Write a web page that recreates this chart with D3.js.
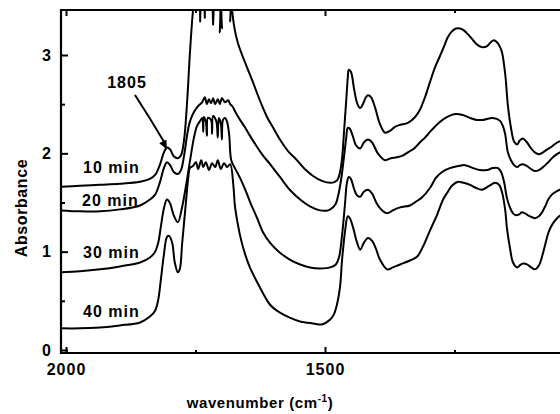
<!DOCTYPE html>
<html><head><meta charset="utf-8">
<script src="https://cdn.jsdelivr.net/npm/d3@7"></script>
<style>
html,body{margin:0;padding:0;background:#fff;}
svg text{font-family:"Liberation Sans",Arial,Helvetica,sans-serif;font-weight:bold;fill:#000;}
</style></head>
<body>
<svg id="chart" width="560" height="414"></svg>
<script>
// ---- data: [wavenumber cm-1, absorbance] ----
const spec10 = [[2010,1.66],[1973,1.67],[1934,1.68],[1896,1.69],[1857,1.71],[1838,1.74],[1828,1.78],[1819,1.88],[1811,2.01],[1805,2.06],[1799,2.04],[1792,1.97],[1784,1.95],[1778,1.98],[1772,2.14],[1766,2.54],[1761,3.00],[1755,3.44],[1751,3.6],[1743,3.6],[1741,3.34],[1739,3.6],[1734,3.6],[1732,3.38],[1730,3.6],[1718,3.6],[1716,3.31],[1714,3.6],[1705,3.6],[1703,3.23],[1701,3.6],[1699,3.27],[1697,3.6],[1685,3.6],[1683,3.34],[1681,3.6],[1679,3.44],[1674,3.25],[1668,3.12],[1660,3.00],[1651,2.88],[1641,2.75],[1631,2.61],[1622,2.49],[1612,2.37],[1600,2.26],[1587,2.14],[1571,2.02],[1554,1.93],[1539,1.84],[1523,1.77],[1506,1.72],[1490,1.70],[1481,1.71],[1475,1.74],[1471,1.81],[1467,1.95],[1463,2.24],[1459,2.54],[1456,2.77],[1454,2.85],[1450,2.83],[1444,2.66],[1438,2.51],[1432,2.46],[1427,2.50],[1421,2.57],[1417,2.59],[1411,2.57],[1403,2.46],[1394,2.30],[1384,2.21],[1374,2.23],[1365,2.27],[1355,2.29],[1340,2.31],[1326,2.37],[1317,2.44],[1307,2.57],[1297,2.73],[1288,2.87],[1278,2.99],[1270,3.09],[1263,3.18],[1255,3.24],[1247,3.27],[1239,3.27],[1232,3.25],[1224,3.21],[1214,3.15],[1205,3.10],[1197,3.08],[1187,3.09],[1180,3.13],[1174,3.15],[1168,3.13],[1162,3.08],[1158,3.02],[1152,2.80],[1147,2.49],[1141,2.26],[1135,2.12],[1129,2.09],[1124,2.13],[1118,2.15],[1110,2.11],[1102,2.05],[1095,2.01],[1087,1.99],[1079,2.01],[1071,2.04],[1062,2.07],[1052,2.11],[1042,2.13]];

const spec20 = [[2010,1.42],[1973,1.41],[1934,1.41],[1896,1.43],[1857,1.47],[1838,1.53],[1828,1.58],[1819,1.70],[1811,1.85],[1805,1.91],[1799,1.88],[1792,1.81],[1784,1.79],[1778,1.83],[1772,1.98],[1766,2.19],[1761,2.32],[1753,2.42],[1745,2.48],[1737,2.52],[1732,2.57],[1728,2.50],[1724,2.55],[1720,2.51],[1716,2.56],[1712,2.50],[1707,2.55],[1703,2.50],[1699,2.56],[1693,2.52],[1687,2.54],[1683,2.50],[1679,2.48],[1672,2.41],[1664,2.34],[1654,2.26],[1645,2.18],[1633,2.08],[1620,1.98],[1606,1.89],[1587,1.76],[1568,1.63],[1548,1.53],[1529,1.46],[1510,1.42],[1494,1.42],[1485,1.45],[1479,1.49],[1475,1.56],[1469,1.73],[1463,1.98],[1459,2.16],[1456,2.26],[1452,2.25],[1446,2.17],[1440,2.08],[1432,2.05],[1425,2.11],[1417,2.14],[1409,2.11],[1398,2.00],[1384,1.93],[1373,1.95],[1361,1.96],[1349,1.98],[1340,2.01],[1328,2.05],[1317,2.11],[1307,2.16],[1297,2.22],[1288,2.27],[1278,2.32],[1264,2.37],[1249,2.40],[1234,2.39],[1220,2.36],[1207,2.34],[1195,2.34],[1176,2.36],[1162,2.33],[1156,2.27],[1152,2.19],[1147,2.01],[1141,1.93],[1135,1.88],[1129,1.86],[1124,1.88],[1118,1.89],[1110,1.87],[1102,1.84],[1095,1.82],[1087,1.83],[1079,1.86],[1069,1.91],[1060,1.96],[1050,2.00],[1042,2.02]];

const spec30 = [[2010,0.79],[1973,0.80],[1934,0.82],[1896,0.85],[1857,0.89],[1838,0.94],[1828,1.00],[1822,1.09],[1817,1.25],[1811,1.44],[1805,1.53],[1799,1.49],[1792,1.37],[1784,1.30],[1776,1.45],[1768,1.68],[1761,1.91],[1753,2.16],[1747,2.28],[1741,2.33],[1737,2.36],[1735,2.22],[1734,2.37],[1730,2.32],[1728,2.18],[1726,2.36],[1720,2.34],[1718,2.20],[1716,2.38],[1710,2.33],[1707,2.16],[1705,2.36],[1701,2.30],[1699,2.14],[1697,2.34],[1693,2.36],[1689,2.32],[1685,2.19],[1681,1.93],[1674,1.85],[1664,1.75],[1654,1.63],[1645,1.51],[1631,1.34],[1620,1.20],[1606,1.09],[1587,0.99],[1568,0.92],[1548,0.87],[1529,0.84],[1510,0.83],[1490,0.84],[1479,0.87],[1473,0.94],[1467,1.17],[1461,1.51],[1458,1.69],[1454,1.76],[1450,1.74],[1444,1.64],[1438,1.57],[1432,1.56],[1425,1.61],[1417,1.63],[1409,1.59],[1400,1.49],[1390,1.42],[1380,1.39],[1369,1.42],[1355,1.45],[1336,1.47],[1324,1.51],[1313,1.55],[1297,1.65],[1286,1.75],[1274,1.81],[1259,1.85],[1243,1.87],[1230,1.88],[1214,1.85],[1201,1.83],[1187,1.83],[1176,1.85],[1166,1.85],[1160,1.81],[1154,1.70],[1149,1.55],[1143,1.45],[1137,1.39],[1131,1.37],[1125,1.38],[1120,1.40],[1114,1.39],[1108,1.37],[1100,1.35],[1095,1.34],[1087,1.36],[1081,1.40],[1075,1.46],[1069,1.53],[1062,1.58],[1054,1.61],[1042,1.64]];

const spec40 = [[2010,0.22],[1973,0.22],[1934,0.23],[1896,0.25],[1857,0.28],[1838,0.34],[1828,0.40],[1822,0.51],[1817,0.71],[1811,0.97],[1805,1.15],[1801,1.16],[1795,1.09],[1790,0.89],[1784,0.79],[1780,0.83],[1776,1.07],[1772,1.30],[1768,1.53],[1764,1.75],[1761,1.85],[1755,1.87],[1749,1.91],[1745,1.84],[1739,1.93],[1735,1.86],[1730,1.91],[1724,1.83],[1718,1.90],[1712,1.86],[1707,1.93],[1701,1.84],[1695,1.90],[1689,1.86],[1683,1.89],[1677,1.68],[1674,1.47],[1668,1.27],[1662,1.12],[1654,0.97],[1645,0.84],[1633,0.71],[1620,0.58],[1606,0.46],[1587,0.38],[1568,0.33],[1548,0.29],[1523,0.27],[1506,0.26],[1490,0.31],[1483,0.36],[1477,0.46],[1471,0.64],[1467,0.92],[1461,1.22],[1456,1.36],[1452,1.34],[1446,1.25],[1438,1.09],[1432,1.02],[1425,1.09],[1417,1.14],[1409,1.11],[1401,1.02],[1394,0.92],[1380,0.82],[1369,0.84],[1355,0.87],[1336,0.91],[1322,0.95],[1311,1.05],[1297,1.22],[1284,1.37],[1272,1.53],[1264,1.60],[1255,1.67],[1243,1.71],[1232,1.70],[1220,1.68],[1209,1.65],[1197,1.63],[1183,1.67],[1172,1.70],[1164,1.68],[1158,1.60],[1152,1.42],[1149,1.25],[1143,1.04],[1137,0.89],[1129,0.84],[1124,0.86],[1118,0.88],[1110,0.87],[1102,0.84],[1095,0.82],[1087,0.86],[1081,0.95],[1075,1.07],[1069,1.19],[1062,1.27],[1052,1.34],[1042,1.38]];

const seriesLabels = ["10 min", "20 min", "30 min", "40 min"];
const xMajorTicks = [2000, 1500];
const xMinorTicks = [1750, 1250];
const yMajorTicks = [0, 1, 2, 3];
const yMinorTicks = [0.5, 1.5, 2.5];
const peakLabel = "1805";
const peakWavenumber = 1805;

// ---- layout ----
const svg = d3.select("#chart");
const L = 61, R = 562, T = 10, B = 353;
const x = d3.scaleLinear().domain([2000, 1500]).range([66, 325]);
const y = d3.scaleLinear().domain([0, 3]).range([350, 55]);

svg.append("defs").append("clipPath").attr("id", "plotclip")
  .append("rect").attr("x", L).attr("y", T).attr("width", R - L).attr("height", B - T);

const line = d3.line().x(d => x(d[0])).y(d => y(d[1])).curve(d3.curveCatmullRom.alpha(0.5));
const plot = svg.append("g").attr("clip-path", "url(#plotclip)");
[spec10, spec20, spec30, spec40].forEach(s => {
  plot.append("path").datum(s).attr("d", line)
    .attr("fill", "none").attr("stroke", "#000").attr("stroke-width", 2)
    .attr("stroke-linejoin", "round");
});

// axes
function styleAxis(g){ g.select(".domain").remove(); g.selectAll("line").attr("stroke","#000").attr("stroke-width",2); }
svg.append("g").attr("transform", `translate(0,${B})`)
  .call(d3.axisBottom(x).tickValues(xMajorTicks).tickSize(-6).tickPadding(11).tickFormat(d3.format("d")))
  .call(styleAxis)
  .selectAll("text").attr("font-size", 16).attr("letter-spacing", 1).attr("fill","#000").attr("font-family",null);
svg.append("g").attr("transform", `translate(0,${B})`)
  .call(d3.axisBottom(x).tickValues(xMinorTicks).tickSize(-3).tickFormat(""))
  .call(styleAxis);
svg.append("g").attr("transform", `translate(0,${T})`)
  .call(d3.axisTop(x).tickValues(xMajorTicks).tickSize(-6).tickFormat(""))
  .call(styleAxis);
svg.append("g").attr("transform", `translate(0,${T})`)
  .call(d3.axisTop(x).tickValues(xMinorTicks).tickSize(-3).tickFormat(""))
  .call(styleAxis);
svg.append("g").attr("transform", `translate(${L},0)`)
  .call(d3.axisLeft(y).tickValues(yMajorTicks).tickSize(-7).tickPadding(10).tickFormat(d3.format("d")))
  .call(styleAxis)
  .selectAll("text").attr("font-size", 16).attr("fill","#000").attr("font-family",null);
svg.append("g").attr("transform", `translate(${L},0)`)
  .call(d3.axisLeft(y).tickValues(yMinorTicks).tickSize(-4).tickFormat(""))
  .call(styleAxis);

// spines
svg.append("line").attr("x1", L).attr("x2", L).attr("y1", T - 1).attr("y2", B + 1).attr("stroke", "#000").attr("stroke-width", 2.2);
svg.append("line").attr("x1", L - 1).attr("x2", 560).attr("y1", B).attr("y2", B).attr("stroke", "#000").attr("stroke-width", 2.2);
svg.append("line").attr("x1", L - 1).attr("x2", 560).attr("y1", T).attr("y2", T).attr("stroke", "#000").attr("stroke-width", 2.2);

// titles
svg.append("text").attr("x", 260).attr("y", 408).attr("text-anchor", "middle")
  .attr("font-size", 15).attr("letter-spacing", 0.6)
  .text("wavenumber (cm").append("tspan").attr("font-size", 10).attr("dy", -6).text("-1")
  .select(function(){ return this.parentNode; }).append("tspan").attr("dy", 6).text(")");
svg.append("text").attr("transform", "translate(27,208) rotate(-90)").attr("text-anchor", "middle")
  .attr("font-size", 16).attr("letter-spacing", 0.6).text("Absorbance");

// series labels
const labelPos = [[83,173],[82,206],[83,258],[83,317]];
seriesLabels.forEach((t, i) => {
  svg.append("text").attr("x", labelPos[i][0]).attr("y", labelPos[i][1])
    .attr("font-size", 16).attr("letter-spacing", 1).text(t);
});

// peak annotation
svg.append("text").attr("x", 127).attr("y", 88).attr("text-anchor", "middle")
  .attr("font-size", 16).attr("letter-spacing", 1).text(peakLabel);
const tip = [x(peakWavenumber), y(2.06) + 2];
const start = [135, 95];
svg.append("path").attr("d", `M${start[0]},${start[1]} Q${150},${118} ${tip[0]-2},${tip[1]-6}`)
  .attr("fill", "none").attr("stroke", "#000").attr("stroke-width", 2);
const ang = Math.atan2(tip[1] - 138, tip[0] - 161);
const ah = 9, aw = 4;
const bx = tip[0] - ah * Math.cos(ang), by = tip[1] - ah * Math.sin(ang);
svg.append("path")
  .attr("d", `M${tip[0]},${tip[1]} L${bx + aw*Math.sin(ang)},${by - aw*Math.cos(ang)} L${bx - aw*Math.sin(ang)},${by + aw*Math.cos(ang)} Z`)
  .attr("fill", "#000");
</script>
</body></html>
